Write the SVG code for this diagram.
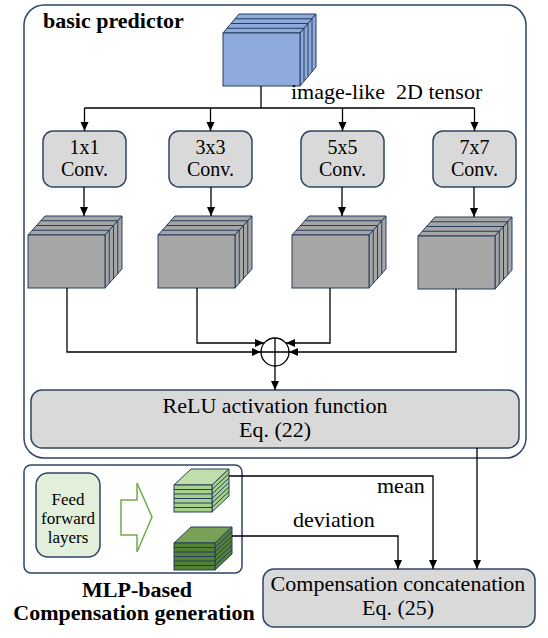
<svg xmlns="http://www.w3.org/2000/svg" width="548" height="638" viewBox="0 0 548 638">
<defs>
<marker id="ah" markerUnits="userSpaceOnUse" markerWidth="10" markerHeight="10" viewBox="0 0 10 10" refX="9" refY="5" orient="auto">
<path d="M0,1 L9,5 L0,9 z" fill="#000"/>
</marker>
<style>
.frame{fill:#fff;stroke:#2e4566;stroke-width:1.5}
.box{fill:#d9d9d9;stroke:#2e4566;stroke-width:1.5}
.t{font-family:"Liberation Serif","Times New Roman",serif;font-size:22px;fill:#000}
.tb{font-family:"Liberation Serif","Times New Roman",serif;font-size:22px;font-weight:bold;fill:#000}
.cv{font-family:"Liberation Serif","Times New Roman",serif;font-size:20px;fill:#000}
.c{fill:none;stroke:#000;stroke-width:1.3}
.ca{fill:none;stroke:#000;stroke-width:1.3;marker-end:url(#ah)}
.edge{stroke:#263d5e;stroke-width:1}
.gray{fill:#a6a6a6}
.blue{fill:#8faadc}
.lg{fill:#a9d18e}
.lgt{fill:#c0dea9}
.dg{fill:#548235}
.dgt{fill:#79a057}
</style>
</defs>

<g id="basic-predictor">
<rect class="frame" x="24" y="5" width="502" height="453" rx="20"/>
<text class="tb" x="43" y="28">basic predictor</text>
</g>

<g id="mlp-frame">
<rect class="frame" x="24" y="465" width="218" height="108" rx="7"/>
</g>
<g id="mlp-label">
<text class="tb" x="137" y="597" text-anchor="middle">MLP-based</text>
<text class="tb" x="134" y="620" text-anchor="middle">Compensation generation</text>
</g>

<g id="input-tensor" class="edge">
<polygon class="blue" points="223,33 239,14 316,14 300,33"/>
<polygon class="blue" points="300,33 316,14 316,67 300,86"/>
<rect class="blue" x="223" y="33" width="77" height="53"/>
<path fill="none" d="M227,28.25 H304 M231,23.5 H308 M235,18.75 H312 M304,28.25 V81.25 M308,23.5 V76.5 M312,18.75 V71.75"/>
</g>
<text class="t" x="291" y="99" xml:space="preserve">image-like  2D tensor</text>

<g id="conv1x1"><rect class="box" x="43" y="131" width="83" height="56" rx="10"/>
<text class="cv" x="84.5" y="154" text-anchor="middle">1x1</text>
<text class="cv" x="84.5" y="176" text-anchor="middle">Conv.</text></g>
<g id="conv3x3"><rect class="box" x="169" y="131" width="83" height="56" rx="10"/>
<text class="cv" x="210.5" y="154" text-anchor="middle">3x3</text>
<text class="cv" x="210.5" y="176" text-anchor="middle">Conv.</text></g>
<g id="conv5x5"><rect class="box" x="301" y="131" width="83" height="56" rx="10"/>
<text class="cv" x="342.5" y="154" text-anchor="middle">5x5</text>
<text class="cv" x="342.5" y="176" text-anchor="middle">Conv.</text></g>
<g id="conv7x7"><rect class="box" x="433" y="131" width="83" height="56" rx="10"/>
<text class="cv" x="474.5" y="154" text-anchor="middle">7x7</text>
<text class="cv" x="474.5" y="176" text-anchor="middle">Conv.</text></g>

<g id="feature1" class="edge" transform="translate(28,235)">
<polygon class="gray" points="0,0 17,-19 94,-19 77,0"/>
<polygon class="gray" points="77,0 94,-19 94,34 77,53"/>
<rect class="gray" x="0" y="0" width="77" height="53"/>
<path fill="none" d="M4.25,-4.75 H81.25 M8.5,-9.5 H85.5 M12.75,-14.25 H89.75 M81.25,-4.75 V48.25 M85.5,-9.5 V43.5 M89.75,-14.25 V38.75"/>
</g>
<g id="feature2" class="edge" transform="translate(158,235)">
<polygon class="gray" points="0,0 17,-19 94,-19 77,0"/>
<polygon class="gray" points="77,0 94,-19 94,34 77,53"/>
<rect class="gray" x="0" y="0" width="77" height="53"/>
<path fill="none" d="M4.25,-4.75 H81.25 M8.5,-9.5 H85.5 M12.75,-14.25 H89.75 M81.25,-4.75 V48.25 M85.5,-9.5 V43.5 M89.75,-14.25 V38.75"/>
</g>
<g id="feature3" class="edge" transform="translate(292,235)">
<polygon class="gray" points="0,0 17,-19 94,-19 77,0"/>
<polygon class="gray" points="77,0 94,-19 94,34 77,53"/>
<rect class="gray" x="0" y="0" width="77" height="53"/>
<path fill="none" d="M4.25,-4.75 H81.25 M8.5,-9.5 H85.5 M12.75,-14.25 H89.75 M81.25,-4.75 V48.25 M85.5,-9.5 V43.5 M89.75,-14.25 V38.75"/>
</g>
<g id="feature4" class="edge" transform="translate(418,236)">
<polygon class="gray" points="0,0 17,-19 94,-19 77,0"/>
<polygon class="gray" points="77,0 94,-19 94,34 77,53"/>
<rect class="gray" x="0" y="0" width="77" height="53"/>
<path fill="none" d="M4.25,-4.75 H81.25 M8.5,-9.5 H85.5 M12.75,-14.25 H89.75 M81.25,-4.75 V48.25 M85.5,-9.5 V43.5 M89.75,-14.25 V38.75"/>
</g>

<g id="sum">
<circle cx="275" cy="352" r="14" fill="#fff" stroke="#000" stroke-width="1.3"/>
<path class="c" d="M261,352 H289 M275,338 V366"/>
</g>

<g id="relu"><rect class="box" x="31" y="390" width="488" height="58" rx="11"/>
<text class="t" x="275" y="413" text-anchor="middle">ReLU activation function</text>
<text class="t" x="275" y="437" text-anchor="middle">Eq. (22)</text></g>

<g id="feed-forward">
<rect x="36" y="473" width="64" height="84" rx="12" fill="#e2efda" stroke="#2e4566" stroke-width="1.5"/>
<text class="t" x="68" y="505" text-anchor="middle" style="font-size:17px">Feed</text>
<text class="t" x="68" y="524" text-anchor="middle" style="font-size:17px">forward</text>
<text class="t" x="68" y="543" text-anchor="middle" style="font-size:17px">layers</text>
</g>
<g id="green-arrow">
<polygon points="121,500 137,500 137,483 152,517 137,552 137,535 121,535" fill="#fff" stroke="#70ad47" stroke-width="1.5"/>
</g>

<g id="mean-tensor" class="edge" transform="translate(174,485)">
<polygon class="lgt" points="0,0 17,-16 55,-16 38,0"/>
<polygon class="lg" points="38,0 55,-16 55,11 38,27"/>
<rect class="lg" x="0" y="0" width="38" height="27"/>
<path fill="none" d="M0,4.5 H38 L55,-11.5 M0,9 H38 L55,-7 M0,13.5 H38 L55,-2.5 M0,18 H38 L55,2 M0,22.5 H38 L55,6.5"/>
</g>
<g id="deviation-tensor" class="edge" transform="translate(174,543)">
<polygon class="dgt" points="0,0 17,-16 58,-16 41,0"/>
<polygon class="dg" points="41,0 58,-16 58,11 41,27"/>
<rect class="dg" x="0" y="0" width="41" height="27"/>
<path fill="none" d="M0,4.5 H41 L58,-11.5 M0,9 H41 L58,-7 M0,13.5 H41 L58,-2.5 M0,18 H41 L58,2 M0,22.5 H41 L58,6.5"/>
</g>

<g id="concat"><rect class="box" x="263" y="569" width="272" height="58" rx="11"/>
<text class="t" x="398" y="591" text-anchor="middle">Compensation concatenation</text>
<text class="t" x="398" y="615" text-anchor="middle">Eq. (25)</text></g>

<g id="connectors">
<path class="c" d="M261,86 V108 M84.5,108 H474.5"/>
<path class="ca" d="M84.5,108 V131"/>
<path class="ca" d="M210.5,108 V131"/>
<path class="ca" d="M342.5,108 V131"/>
<path class="ca" d="M474.5,108 V131"/>
<path class="ca" d="M84,187 V216"/>
<path class="ca" d="M211,187 V216"/>
<path class="ca" d="M342,187 V216"/>
<path class="ca" d="M474,187 V217"/>
<path class="ca" d="M67,288 V352 H261"/>
<path class="ca" d="M197,288 V343 H264"/>
<path class="ca" d="M330,288 V343 H286"/>
<path class="ca" d="M456,289 V352 H289"/>
<path class="ca" d="M275,366 V390"/>
<path class="ca" d="M477,448 V569"/>
<path class="ca" d="M229,476 H433 V569"/>
<path class="ca" d="M232,536 H398 V569"/>
<text class="t" x="377" y="493">mean</text>
<text class="t" x="293" y="527">deviation</text>
</g>
</svg>
